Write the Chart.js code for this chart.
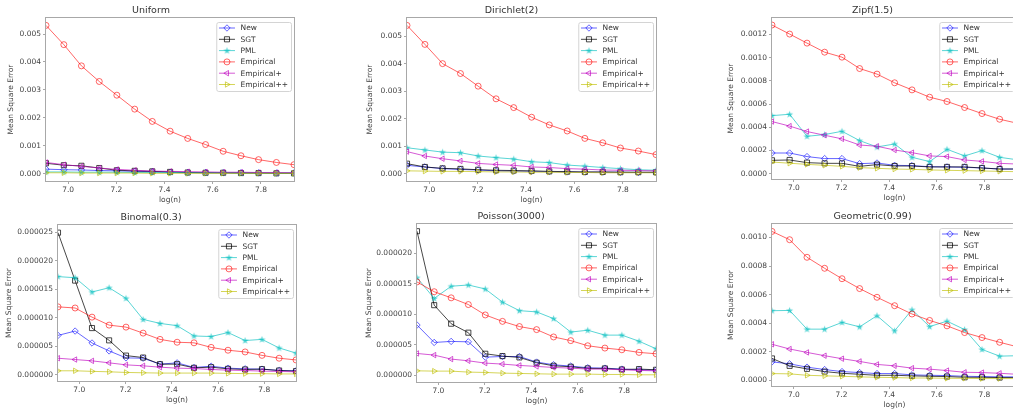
<!DOCTYPE html>
<html>
<head>
<meta charset="utf-8">
<script src="https://cdn.jsdelivr.net/npm/chart.js@4.4.1/dist/chart.umd.min.js"></script>
<style>
  html, body { margin: 0; padding: 0; background: #fff; overflow: hidden; width: 1013px; height: 412px; }
  canvas { position: absolute; }
</style>
</head>
<body>
<canvas id="c0"></canvas>
<canvas id="c1"></canvas>
<canvas id="c2"></canvas>
<canvas id="c3"></canvas>
<canvas id="c4"></canvas>
<canvas id="c5"></canvas>
<script>
// x positions: log(n)
const logN = [6.908, 6.982, 7.055, 7.129, 7.202, 7.276, 7.349, 7.423, 7.496, 7.570, 7.643, 7.717, 7.790, 7.864, 7.937];
const xTicks = ['7.0', '7.2', '7.4', '7.6', '7.8'];
const seriesNames = ['New', 'SGT', 'PML', 'Empirical', 'Empirical+', 'Empirical++'];

// Uniform
const uniformNew    = [0.00016, 0.00014, 0.00013, 0.00011, 0.00010, 0.00008, 0.00007, 0.00005, 0.00004, 0.00004, 0.00003, 0.00003, 0.00002, 0.00002, 0.00002];
const uniformSGT    = [0.00037, 0.00030, 0.00028, 0.00020, 0.00012, 0.00010, 0.00008, 0.00006, 0.00004, 0.00003, 0.00003, 0.00002, 0.00002, 0.00001, 0.00001];
const uniformPML    = [0.00006, 0.00006, 0.00005, 0.00005, 0.00005, 0.00004, 0.00004, 0.00004, 0.00003, 0.00003, 0.00003, 0.00002, 0.00002, 0.00002, 0.00002];
const uniformEmp    = [0.00531, 0.00462, 0.00386, 0.00330, 0.00281, 0.00231, 0.00187, 0.00152, 0.00126, 0.00104, 0.00080, 0.00064, 0.00050, 0.00040, 0.00032];
const uniformEmpP   = [0.00040, 0.00032, 0.00026, 0.00020, 0.00015, 0.00012, 0.00009, 0.00008, 0.00007, 0.00006, 0.00005, 0.00005, 0.00004, 0.00004, 0.00003];
const uniformEmpPP  = [0.00003, 0.00003, 0.00002, 0.00002, 0.00002, 0.00002, 0.00001, 0.00001, 0.00001, 0.00001, 0.00001, 0.00001, 0.00001, 0.00001, 0.00001];
const uniformTicks  = ['0.000', '0.001', '0.002', '0.003', '0.004', '0.005'];

// Dirichlet(2)
const dirichletNew   = [0.00030, 0.00024, 0.00018, 0.00015, 0.00013, 0.00010, 0.00009, 0.00008, 0.00007, 0.00006, 0.00005, 0.00005, 0.00005, 0.00004, 0.00004];
const dirichletSGT   = [0.00036, 0.00024, 0.00019, 0.00017, 0.00014, 0.00012, 0.00011, 0.00010, 0.00008, 0.00007, 0.00006, 0.00006, 0.00005, 0.00005, 0.00005];
const dirichletPML   = [0.00094, 0.00086, 0.00078, 0.00076, 0.00064, 0.00058, 0.00053, 0.00043, 0.00040, 0.00031, 0.00027, 0.00022, 0.00018, 0.00014, 0.00012];
const dirichletEmp   = [0.00539, 0.00470, 0.00400, 0.00364, 0.00318, 0.00272, 0.00240, 0.00205, 0.00177, 0.00155, 0.00128, 0.00112, 0.00093, 0.00082, 0.00069];
const dirichletEmpP  = [0.00080, 0.00064, 0.00054, 0.00046, 0.00037, 0.00033, 0.00030, 0.00024, 0.00022, 0.00018, 0.00016, 0.00013, 0.00012, 0.00011, 0.00010];
const dirichletEmpPP = [0.00010, 0.00009, 0.00008, 0.00008, 0.00007, 0.00006, 0.00006, 0.00005, 0.00005, 0.00004, 0.00004, 0.00003, 0.00003, 0.00003, 0.00003];
const dirichletTicks = ['0.000', '0.001', '0.002', '0.003', '0.004', '0.005'];

// Zipf(1.5)
const zipfNew   = [0.000178, 0.000178, 0.000147, 0.000130, 0.000130, 0.000086, 0.000092, 0.000072, 0.000069, 0.000060, 0.000058, 0.000055, 0.000049, 0.000040, 0.000040];
const zipfSGT   = [0.000115, 0.000118, 0.000095, 0.000089, 0.000089, 0.000063, 0.000078, 0.000066, 0.000066, 0.000058, 0.000058, 0.000058, 0.000049, 0.000040, 0.000040];
const zipfPML   = [0.000500, 0.000512, 0.000322, 0.000337, 0.000365, 0.000285, 0.000230, 0.000256, 0.000141, 0.000104, 0.000210, 0.000153, 0.000199, 0.000141, 0.000120];
const zipfEmp   = [0.001281, 0.001203, 0.001125, 0.001047, 0.001004, 0.000906, 0.000858, 0.000783, 0.000722, 0.000659, 0.000622, 0.000570, 0.000518, 0.000469, 0.000435];
const zipfEmpP  = [0.000449, 0.000410, 0.000363, 0.000331, 0.000300, 0.000247, 0.000236, 0.000204, 0.000181, 0.000153, 0.000147, 0.000118, 0.000106, 0.000089, 0.000083];
const zipfEmpPP = [0.000100, 0.000090, 0.000080, 0.000072, 0.000063, 0.000052, 0.000046, 0.000040, 0.000037, 0.000032, 0.000029, 0.000026, 0.000023, 0.000020, 0.000017];
const zipfTicks = ['0.0000', '0.0002', '0.0004', '0.0006', '0.0008', '0.0010', '0.0012'];

// Binomal(0.3)
const binomNew   = [6.9e-6, 7.66e-6, 5.57e-6, 4.18e-6, 2.96e-6, 2.9e-6, 1.86e-6, 2.09e-6, 1.28e-6, 1.5e-6, 1.16e-6, 1.04e-6, 0.99e-6, 0.75e-6, 0.7e-6];
const binomSGT   = [24.9e-6, 16.5e-6, 8.18e-6, 6.03e-6, 3.36e-6, 3.02e-6, 1.86e-6, 1.86e-6, 1.22e-6, 1.33e-6, 1.04e-6, 0.93e-6, 0.99e-6, 0.75e-6, 0.64e-6];
const binomPML   = [17.2e-6, 17.0e-6, 14.5e-6, 15.25e-6, 13.4e-6, 9.7e-6, 9.0e-6, 8.6e-6, 6.8e-6, 6.7e-6, 7.4e-6, 6.0e-6, 6.2e-6, 4.7e-6, 3.8e-6];
const binomEmp   = [11.9e-6, 11.7e-6, 10.1e-6, 8.7e-6, 8.35e-6, 7.3e-6, 6.2e-6, 5.7e-6, 5.6e-6, 4.8e-6, 4.3e-6, 4.0e-6, 3.4e-6, 2.9e-6, 2.6e-6];
const binomEmpP  = [2.9e-6, 2.67e-6, 2.44e-6, 2.09e-6, 1.74e-6, 1.57e-6, 1.33e-6, 1.16e-6, 1.1e-6, 0.93e-6, 0.81e-6, 0.75e-6, 0.64e-6, 0.58e-6, 0.52e-6];
const binomEmpPP = [0.7e-6, 0.7e-6, 0.6e-6, 0.52e-6, 0.41e-6, 0.35e-6, 0.3e-6, 0.3e-6, 0.3e-6, 0.3e-6, 0.25e-6, 0.2e-6, 0.2e-6, 0.15e-6, 0.15e-6];
const binomTicks = ['0.000000', '0.000005', '0.000010', '0.000015', '0.000020', '0.000025'];

// Poisson(3000)
const poissonNew   = [8.25e-6, 5.4e-6, 5.57e-6, 5.5e-6, 3.0e-6, 3.1e-6, 3.1e-6, 2.19e-6, 1.75e-6, 1.53e-6, 1.26e-6, 1.2e-6, 1.04e-6, 0.93e-6, 0.87e-6];
const poissonSGT   = [23.6e-6, 11.5e-6, 8.47e-6, 7.0e-6, 3.55e-6, 3.17e-6, 2.95e-6, 2.08e-6, 1.58e-6, 1.42e-6, 1.15e-6, 1.15e-6, 0.98e-6, 1.04e-6, 0.93e-6];
const poissonPML   = [16.0e-6, 12.6e-6, 14.6e-6, 14.8e-6, 14.15e-6, 12.0e-6, 10.6e-6, 10.4e-6, 9.3e-6, 7.1e-6, 7.4e-6, 6.6e-6, 6.6e-6, 5.6e-6, 4.37e-6];
const poissonEmp   = [15.3e-6, 13.7e-6, 12.7e-6, 11.6e-6, 9.9e-6, 8.85e-6, 8.0e-6, 7.5e-6, 6.3e-6, 5.7e-6, 4.86e-6, 4.48e-6, 4.2e-6, 3.77e-6, 3.55e-6];
const poissonEmpP  = [3.6e-6, 3.33e-6, 2.68e-6, 2.4e-6, 2.02e-6, 1.86e-6, 1.64e-6, 1.48e-6, 1.31e-6, 1.2e-6, 1.04e-6, 1.04e-6, 0.93e-6, 0.82e-6, 0.76e-6];
const poissonEmpPP = [0.76e-6, 0.71e-6, 0.71e-6, 0.55e-6, 0.49e-6, 0.38e-6, 0.33e-6, 0.27e-6, 0.22e-6, 0.22e-6, 0.22e-6, 0.16e-6, 0.16e-6, 0.11e-6, 0.11e-6];
const poissonTicks = ['0.000000', '0.000005', '0.000010', '0.000015', '0.000020'];

// Geometric(0.99)
const geomNew   = [0.000129, 0.000115, 0.000092, 0.000075, 0.000061, 0.000054, 0.000047, 0.000047, 0.000038, 0.000035, 0.000033, 0.000028, 0.000026, 0.000024, 0.000024];
const geomSGT   = [0.000153, 0.000101, 0.000080, 0.000061, 0.000049, 0.000042, 0.000035, 0.000035, 0.000031, 0.000028, 0.000026, 0.000021, 0.000021, 0.000019, 0.000019];
const geomPML   = [0.000487, 0.000489, 0.000358, 0.000358, 0.000405, 0.000374, 0.000452, 0.000346, 0.000494, 0.000376, 0.000414, 0.000355, 0.000216, 0.000169, 0.000172];
const geomEmp   = [0.001042, 0.000984, 0.000861, 0.000784, 0.000711, 0.000642, 0.000581, 0.000522, 0.000464, 0.000419, 0.000381, 0.000334, 0.000299, 0.000266, 0.000235];
const geomEmpP  = [0.000252, 0.000219, 0.000195, 0.000172, 0.000151, 0.000132, 0.000111, 0.000101, 0.000085, 0.000078, 0.000068, 0.000056, 0.000054, 0.000049, 0.000042];
const geomEmpPP = [0.000047, 0.000045, 0.000035, 0.000031, 0.000028, 0.000024, 0.000021, 0.000019, 0.000016, 0.000016, 0.000014, 0.000014, 0.000012, 0.000012, 0.000012];
const geomTicks = ['0.0000', '0.0002', '0.0004', '0.0006', '0.0008', '0.0010'];

// panel layout: axes box in page pixels, y range
const panels = [
  { id: 'c0', title: 'Uniform', box: [46, 18, 295, 181], padL: 39, yMin: -0.000265, yMax: 0.005575, ticks: uniformTicks,
    series: [uniformNew, uniformSGT, uniformPML, uniformEmp, uniformEmpP, uniformEmpPP] },
  { id: 'c1', title: 'Dirichlet(2)', box: [407, 18, 657, 181], padL: 41, yMin: -0.00027, yMax: 0.00566, ticks: dirichletTicks,
    series: [dirichletNew, dirichletSGT, dirichletPML, dirichletEmp, dirichletEmpP, dirichletEmpPP] },
  { id: 'c2', title: 'Zipf(1.5)', box: [772, 18, 1018, 179], padL: 45, yMin: -0.000046, yMax: 0.0013415, ticks: zipfTicks,
    series: [zipfNew, zipfSGT, zipfPML, zipfEmp, zipfEmpP, zipfEmpPP] },
  { id: 'c3', title: 'Binomal(0.3)', box: [58, 225, 297, 381], padL: 53, yMin: -1.09e-6, yMax: 26.24e-6, ticks: binomTicks,
    series: [binomNew, binomSGT, binomPML, binomEmp, binomEmpP, binomEmpPP] },
  { id: 'c4', title: 'Poisson(3000)', box: [417, 224, 657, 382], padL: 52, yMin: -1.07e-6, yMax: 24.78e-6, ticks: poissonTicks,
    series: [poissonNew, poissonSGT, poissonPML, poissonEmp, poissonEmpP, poissonEmpPP] },
  { id: 'c5', title: 'Geometric(0.99)', box: [772, 224, 1018, 386], padL: 45, yMin: -0.00004, yMax: 0.001094, ticks: geomTicks,
    series: [geomNew, geomSGT, geomPML, geomEmp, geomEmpP, geomEmpPP] }
];

const FONT = 'DejaVu Sans';
const spine = '#a8a8a8';
const textColor = '#444';
const TITLE_H = 15, PAD_B = 24, PAD_R = 4;

// filled 5-point star marker for PML
function makeStar(color) {
  const c = document.createElement('canvas');
  c.width = 9; c.height = 9;
  const g = c.getContext('2d');
  g.translate(4.5, 4.8);
  g.beginPath();
  for (let k = 0; k < 10; k++) {
    const r = k % 2 === 0 ? 3.8 : 1.5;
    const a = -Math.PI / 2 + k * Math.PI / 5;
    g.lineTo(r * Math.cos(a), r * Math.sin(a));
  }
  g.closePath();
  g.fillStyle = color;
  g.fill();
  return c;
}

const styles = [
  { color: 'rgba(0,0,255,0.6)',     pointStyle: 'rectRot',  radius: 3.2, rotation: 0 },
  { color: 'rgba(0,0,0,0.72)',      pointStyle: 'rect',     radius: 3.6, rotation: 0 },
  { color: 'rgba(0,191,191,0.65)',  pointStyle: null,       radius: 3.5, rotation: 0 },
  { color: 'rgba(255,0,0,0.6)',     pointStyle: 'circle',   radius: 3.0, rotation: 0 },
  { color: 'rgba(191,0,191,0.65)',  pointStyle: 'triangle', radius: 3.1, rotation: -90 },
  { color: 'rgba(191,191,0,0.65)',  pointStyle: 'triangle', radius: 3.1, rotation: 90 }
];
styles[2].pointStyle = makeStar(styles[2].color);

// frame (all four spines) + legend inside the axes
const framePlugin = {
  id: 'frame',
  afterDatasetsDraw(chart) {
    const { ctx, chartArea: a } = chart;
    ctx.save();
    ctx.strokeStyle = spine;
    ctx.lineWidth = 1;
    ctx.strokeRect(Math.round(a.left) - 0.5, Math.round(a.top) - 0.5, Math.round(a.right - a.left) + 1, Math.round(a.bottom - a.top) + 1);

    // legend
    ctx.font = '7.5px "' + FONT + '"';
    const textW = Math.max(...seriesNames.map(n => ctx.measureText(n).width));
    const boxW = 2.7 + 16 + 5.6 + textW + 3;
    const boxH = 69;
    const x0 = a.right - 3 - boxW, y0 = a.top + 4;
    ctx.beginPath();
    ctx.roundRect(x0 + 0.5, y0 + 0.5, boxW, boxH, 2);
    ctx.fillStyle = 'rgba(255,255,255,0.85)';
    ctx.fill();
    ctx.strokeStyle = '#d4d4d4';
    ctx.stroke();
    seriesNames.forEach((name, i) => {
      const st = styles[i];
      const cy = y0 + 6 + i * 11.3;
      ctx.strokeStyle = st.color;
      ctx.lineWidth = 1;
      ctx.beginPath();
      ctx.moveTo(x0 + 2.7, cy);
      ctx.lineTo(x0 + 18.7, cy);
      ctx.stroke();
      ctx.fillStyle = 'rgba(0,0,0,0)';
      Chart.helpers.drawPoint(ctx, { pointStyle: st.pointStyle, rotation: st.rotation, radius: st.radius, borderWidth: 1 }, x0 + 10.7, cy);
      ctx.fillStyle = '#333';
      ctx.textBaseline = 'middle';
      ctx.textAlign = 'left';
      ctx.fillText(name, x0 + 24.3, cy + 0.5);
    });
    ctx.restore();
  }
};

panels.forEach(p => {
  const [l, t, r, b] = p.box;
  const canvas = document.getElementById(p.id);
  const w = p.padL + (r - l) + PAD_R;
  const h = TITLE_H + (b - t) + PAD_B;
  canvas.width = w; canvas.height = h;
  canvas.style.left = (l - p.padL) + 'px';
  canvas.style.top = (t - TITLE_H) + 'px';
  canvas.style.width = w + 'px';
  canvas.style.height = h + 'px';

  const datasets = p.series.map((vals, i) => ({
    label: seriesNames[i],
    data: logN.map((x, k) => ({ x: x, y: vals[k] })),
    borderColor: styles[i].color,
    backgroundColor: 'rgba(0,0,0,0)',
    borderWidth: 1,
    tension: 0,
    pointStyle: styles[i].pointStyle,
    pointRotation: styles[i].rotation,
    pointRadius: styles[i].radius,
    pointBorderWidth: 1,
    pointBorderColor: styles[i].color,
    pointBackgroundColor: 'rgba(0,0,0,0)',
    clip: 0,
    order: 6 - i
  }));

  new Chart(canvas.getContext('2d'), {
    type: 'line',
    data: { datasets: datasets },
    options: {
      responsive: false,
      animation: false,
      layout: { padding: { left: 0, top: 0, right: PAD_R, bottom: 0 } },
      plugins: {
        legend: { display: false },
        tooltip: { enabled: false },
        title: {
          display: true, text: p.title, color: '#333',
          font: { family: FONT, size: 9.5, weight: 'normal', lineHeight: 1.2 },
          padding: { top: 2, bottom: 1.6 }
        }
      },
      scales: {
        x: {
          type: 'linear',
          min: logN[0], max: logN[logN.length - 1],
          afterFit: s => { s.height = PAD_B; },
          afterBuildTicks: s => { s.ticks = xTicks.map(v => ({ value: parseFloat(v) })); },
          ticks: { callback: (v, i) => xTicks[i], color: textColor, font: { family: FONT, size: 7.5 }, padding: 2, autoSkip: false, maxRotation: 0 },
          grid: { display: true, drawOnChartArea: false, drawTicks: true, tickLength: 3, color: spine },
          border: { display: false },
          title: { display: true, text: 'log(n)', color: textColor, font: { family: FONT, size: 7.5, lineHeight: 1.2 }, padding: 0 }
        },
        y: {
          type: 'linear',
          min: p.yMin, max: p.yMax,
          afterFit: s => { s.width = p.padL; },
          afterBuildTicks: s => { s.ticks = p.ticks.map(v => ({ value: parseFloat(v) })); },
          ticks: { callback: (v, i) => p.ticks[i], color: textColor, font: { family: FONT, size: 7.5 }, padding: 2, autoSkip: false },
          grid: { display: true, drawOnChartArea: false, drawTicks: true, tickLength: 3, color: spine },
          border: { display: false },
          title: { display: true, text: 'Mean Square Error', color: textColor, font: { family: FONT, size: 7.5, lineHeight: 1.2 }, padding: 0 }
        }
      }
    },
    plugins: [framePlugin]
  });
});
</script>
</body>
</html>
